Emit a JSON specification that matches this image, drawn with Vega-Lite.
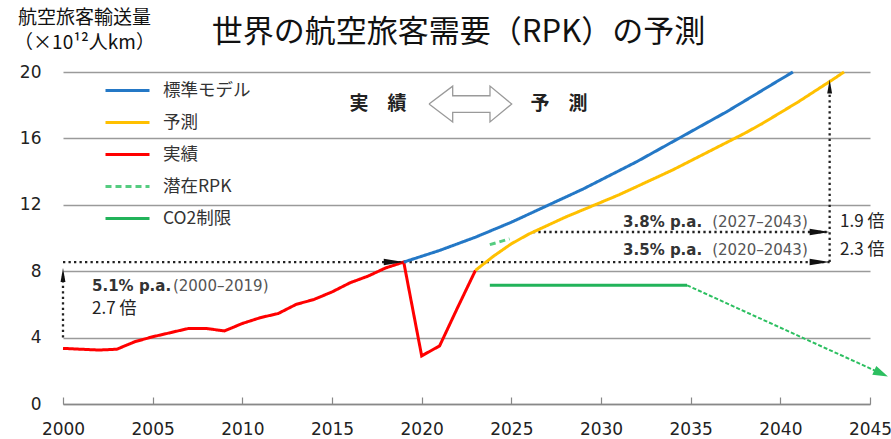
{
  "$schema": "https://vega.github.io/schema/vega-lite/v6.json",
  "width": 807,
  "height": 332,
  "autosize": {"type": "none"},
  "padding": {"left": 63, "top": 72, "right": 21, "bottom": 35},
  "background": "white",
  "config": {
    "view": {"stroke": null},
    "font": "Noto Sans CJK JP",
    "legend": {
      "orient": "none",
      "legendX": 41,
      "legendY": -5,
      "title": null,
      "symbolType": "stroke",
      "symbolSize": 1936,
      "symbolStrokeWidth": 3,
      "labelFont": "Noto Sans CJK JP",
      "labelFontSize": 17.5,
      "labelColor": "#333333",
      "labelOffset": 12,
      "rowPadding": -11,
      "padding": 0
    }
  },
  "title": {
    "text": "世界の航空旅客需要（RPK）の予測",
    "font": "Noto Sans CJK JP",
    "fontSize": 31,
    "fontWeight": "normal",
    "color": "#111111",
    "anchor": "middle",
    "frame": "group",
    "dx": -8,
    "offset": -41
  },
  "datasets": {
    "series": [
      {"series": "実績", "year": 2000, "value": 3.35},
      {"series": "実績", "year": 2001, "value": 3.3},
      {"series": "実績", "year": 2002, "value": 3.25},
      {"series": "実績", "year": 2003, "value": 3.3},
      {"series": "実績", "year": 2004, "value": 3.75},
      {"series": "実績", "year": 2005, "value": 4.05},
      {"series": "実績", "year": 2006, "value": 4.3},
      {"series": "実績", "year": 2007, "value": 4.55},
      {"series": "実績", "year": 2008, "value": 4.55},
      {"series": "実績", "year": 2009, "value": 4.4},
      {"series": "実績", "year": 2010, "value": 4.85},
      {"series": "実績", "year": 2011, "value": 5.2},
      {"series": "実績", "year": 2012, "value": 5.45},
      {"series": "実績", "year": 2013, "value": 6.0},
      {"series": "実績", "year": 2014, "value": 6.3},
      {"series": "実績", "year": 2015, "value": 6.75},
      {"series": "実績", "year": 2016, "value": 7.3},
      {"series": "実績", "year": 2017, "value": 7.7},
      {"series": "実績", "year": 2018, "value": 8.2},
      {"series": "実績", "year": 2019, "value": 8.55},
      {"series": "実績", "year": 2020, "value": 2.9},
      {"series": "実績", "year": 2021, "value": 3.5},
      {"series": "実績", "year": 2022, "value": 5.8},
      {"series": "実績", "year": 2023, "value": 8.05},
      {"series": "標準モデル", "year": 2019, "value": 8.55},
      {"series": "標準モデル", "year": 2020, "value": 8.9},
      {"series": "標準モデル", "year": 2021, "value": 9.25},
      {"series": "標準モデル", "year": 2022, "value": 9.65},
      {"series": "標準モデル", "year": 2023, "value": 10.05},
      {"series": "標準モデル", "year": 2024, "value": 10.5},
      {"series": "標準モデル", "year": 2025, "value": 10.95},
      {"series": "標準モデル", "year": 2026, "value": 11.45},
      {"series": "標準モデル", "year": 2027, "value": 11.95},
      {"series": "標準モデル", "year": 2028, "value": 12.45},
      {"series": "標準モデル", "year": 2029, "value": 12.95},
      {"series": "標準モデル", "year": 2030, "value": 13.5},
      {"series": "標準モデル", "year": 2031, "value": 14.05},
      {"series": "標準モデル", "year": 2032, "value": 14.6},
      {"series": "標準モデル", "year": 2033, "value": 15.2},
      {"series": "標準モデル", "year": 2034, "value": 15.8},
      {"series": "標準モデル", "year": 2035, "value": 16.4},
      {"series": "標準モデル", "year": 2036, "value": 17.0},
      {"series": "標準モデル", "year": 2037, "value": 17.6},
      {"series": "標準モデル", "year": 2038, "value": 18.25},
      {"series": "標準モデル", "year": 2039, "value": 18.9},
      {"series": "標準モデル", "year": 2040, "value": 19.55},
      {"series": "標準モデル", "year": 2040.7, "value": 20.0},
      {"series": "予測", "year": 2023, "value": 8.05},
      {"series": "予測", "year": 2024, "value": 8.9},
      {"series": "予測", "year": 2025, "value": 9.65},
      {"series": "予測", "year": 2026, "value": 10.25},
      {"series": "予測", "year": 2027, "value": 10.75},
      {"series": "予測", "year": 2028, "value": 11.25},
      {"series": "予測", "year": 2029, "value": 11.7},
      {"series": "予測", "year": 2030, "value": 12.15},
      {"series": "予測", "year": 2031, "value": 12.6},
      {"series": "予測", "year": 2032, "value": 13.1},
      {"series": "予測", "year": 2033, "value": 13.6},
      {"series": "予測", "year": 2034, "value": 14.1},
      {"series": "予測", "year": 2035, "value": 14.65},
      {"series": "予測", "year": 2036, "value": 15.2},
      {"series": "予測", "year": 2037, "value": 15.75},
      {"series": "予測", "year": 2038, "value": 16.3},
      {"series": "予測", "year": 2039, "value": 16.9},
      {"series": "予測", "year": 2040, "value": 17.55},
      {"series": "予測", "year": 2041, "value": 18.2},
      {"series": "予測", "year": 2042, "value": 18.9},
      {"series": "予測", "year": 2043, "value": 19.6},
      {"series": "予測", "year": 2043.55, "value": 20.0},
      {"series": "潜在RPK", "year": 2023.8, "value": 9.6},
      {"series": "潜在RPK", "year": 2024.9, "value": 9.95},
      {"series": "CO2制限", "year": 2023.8, "value": 7.15},
      {"series": "CO2制限", "year": 2034.8, "value": 7.15}
    ],
    "co2arrow": [
      {"year": 2034.8, "value": 7.15},
      {"year": 2045.4, "value": 1.95}
    ],
    "co2tip": [
      {"year": 2046.0, "value": 1.65}
    ],
    "dotted": [
      {"seg": "a", "year": 2000, "value": 8.55},
      {"seg": "a", "year": 2042.75, "value": 8.55},
      {"seg": "b", "year": 2026.2, "value": 10.36},
      {"seg": "b", "year": 2042.75, "value": 10.36},
      {"seg": "c", "year": 2000, "value": 4.0},
      {"seg": "c", "year": 2000, "value": 7.7},
      {"seg": "d", "year": 2042.75, "value": 8.55},
      {"seg": "d", "year": 2042.75, "value": 18.7}
    ],
    "arrowsRight": [
      {"year": 2019.0, "value": 8.55},
      {"year": 2042.75, "value": 8.55},
      {"year": 2042.75, "value": 10.36}
    ],
    "arrowsUp": [
      {"year": 2000, "value": 8.2},
      {"year": 2042.75, "value": 19.55}
    ],
    "darrow": [
      {"ord": 1, "year": 2020.41, "value": 18.07},
      {"ord": 2, "year": 2021.73, "value": 19.15},
      {"ord": 3, "year": 2021.73, "value": 18.57},
      {"ord": 4, "year": 2023.81, "value": 18.57},
      {"ord": 5, "year": 2023.81, "value": 19.15},
      {"ord": 6, "year": 2025.02, "value": 18.07},
      {"ord": 7, "year": 2023.81, "value": 16.99},
      {"ord": 8, "year": 2023.81, "value": 17.57},
      {"ord": 9, "year": 2021.73, "value": 17.57},
      {"ord": 10, "year": 2021.73, "value": 16.99},
      {"ord": 11, "year": 2020.41, "value": 18.07}
    ],
    "boldText": [
      {"label": "5.1% p.a.", "year": 2001.62, "value": 7.11},
      {"label": "3.8% p.a.", "year": 2031.23, "value": 10.96},
      {"label": "3.5% p.a.", "year": 2031.23, "value": 9.28}
    ],
    "parenText": [
      {"label": "(2000–2019)", "year": 2006.13, "value": 7.11},
      {"label": "(2027–2043)", "year": 2036.2, "value": 10.96},
      {"label": "(2020–2043)", "year": 2036.2, "value": 9.28}
    ],
    "baiText": [
      {"label": "2.7 倍", "year": 2001.62, "value": 5.72},
      {"label": "1.9 倍", "year": 2043.33, "value": 10.96},
      {"label": "2.3 倍", "year": 2043.33, "value": 9.28}
    ],
    "phaseText": [
      {"label": "実　績", "year": 2017.57, "value": 18.05},
      {"label": "予　測", "year": 2027.66, "value": 18.05}
    ]
  },
  "encoding": {
    "x": {
      "field": "year",
      "type": "quantitative",
      "scale": {"domain": [2000, 2045], "nice": false, "zero": false},
      "axis": {
        "title": null,
        "values": [2000, 2005, 2010, 2015, 2020, 2025, 2030, 2035, 2040, 2045],
        "format": "d",
        "grid": false,
        "domainColor": "#888888",
        "domainWidth": 1.5,
        "tickColor": "#888888",
        "tickWidth": 1.2,
        "tickSize": -7,
        "labelFont": "DejaVu Sans",
        "labelFontSize": 17,
        "labelColor": "#222222",
        "labelPadding": 24,
        "labelFlush": false
      }
    },
    "y": {
      "field": "value",
      "type": "quantitative",
      "scale": {"domain": [0, 20], "nice": false},
      "axis": {
        "title": ["航空旅客輸送量", "（×10¹²人km）"],
        "titleAngle": 0,
        "titleAlign": "center",
        "titleBaseline": "top",
        "titleX": 21,
        "titleY": -64,
        "titleLineHeight": 25,
        "titleFont": "Noto Sans CJK JP",
        "titleFontSize": 19,
        "titleFontWeight": "normal",
        "titleColor": "#111111",
        "values": [0, 4, 8, 12, 16, 20],
        "grid": true,
        "gridColor": "#9a9a9a",
        "gridWidth": 1.6,
        "domain": false,
        "ticks": false,
        "labelFont": "DejaVu Sans",
        "labelFontSize": 17,
        "labelColor": "#222222",
        "labelPadding": 22
      }
    }
  },
  "layer": [
    {
      "data": {"values": [{"year": 2023}]},
      "mark": {"type": "rule", "color": "#888888", "strokeWidth": 1.5},
      "encoding": {"x": {"field": "year", "type": "quantitative"}, "y": {"datum": 0}, "y2": {"datum": 20}}
    },
    {
      "data": {"name": "darrow"},
      "mark": {"type": "line", "color": "#9a9a9a", "strokeWidth": 1.3},
      "encoding": {"order": {"field": "ord", "type": "quantitative"}}
    },
    {
      "data": {"name": "dotted"},
      "mark": {"type": "line", "color": "#222222", "strokeWidth": 2.3, "strokeDash": [2.3, 3.2]},
      "encoding": {"detail": {"field": "seg"}}
    },
    {
      "data": {"name": "series"},
      "mark": {"type": "line", "strokeWidth": 3},
      "encoding": {
        "color": {
          "field": "series",
          "type": "nominal",
          "scale": {
            "domain": ["標準モデル", "予測", "実績", "潜在RPK", "CO2制限"],
            "range": ["#2478c6", "#ffc000", "#ff0000", "#55cc80", "#22b35a"]
          }
        },
        "strokeDash": {
          "field": "series",
          "type": "nominal",
          "scale": {
            "domain": ["標準モデル", "予測", "実績", "潜在RPK", "CO2制限"],
            "range": [[1, 0], [1, 0], [1, 0], [6, 4], [1, 0]]
          }
        }
      }
    },
    {
      "data": {"name": "co2arrow"},
      "mark": {"type": "line", "color": "#2cbf60", "strokeWidth": 2, "strokeDash": [4, 2]},
      "encoding": {}
    },
    {
      "data": {"name": "co2tip"},
      "mark": {"type": "point", "shape": "M-2,-0.65L0,0L-2,0.65Z", "size": 225, "filled": true, "color": "#2cbf60", "opacity": 1, "angle": 24.4},
      "encoding": {}
    },
    {
      "data": {"name": "arrowsRight"},
      "mark": {"type": "point", "shape": "M-2,-0.32L0,0L-2,0.32Z", "size": 400, "filled": true, "color": "#111111", "opacity": 1},
      "encoding": {}
    },
    {
      "data": {"name": "arrowsUp"},
      "mark": {"type": "point", "shape": "M-0.35,2L0,0L0.35,2Z", "size": 196, "filled": true, "color": "#111111", "opacity": 1},
      "encoding": {}
    },
    {
      "data": {"name": "boldText"},
      "mark": {"type": "text", "font": "DejaVu Sans", "fontSize": 15, "fontWeight": "bold", "color": "#333333", "align": "left", "baseline": "middle"},
      "encoding": {"text": {"field": "label"}}
    },
    {
      "data": {"name": "parenText"},
      "mark": {"type": "text", "font": "DejaVu Sans", "fontSize": 15, "color": "#555555", "align": "left", "baseline": "middle"},
      "encoding": {"text": {"field": "label"}}
    },
    {
      "data": {"name": "baiText"},
      "mark": {"type": "text", "font": "Noto Sans CJK JP", "fontSize": 17, "color": "#222222", "align": "left", "baseline": "middle"},
      "encoding": {"text": {"field": "label"}}
    },
    {
      "data": {"name": "phaseText"},
      "mark": {"type": "text", "font": "Noto Sans CJK JP", "fontSize": 19, "fontWeight": "bold", "color": "#222222", "align": "center", "baseline": "middle"},
      "encoding": {"text": {"field": "label"}}
    }
  ]
}
